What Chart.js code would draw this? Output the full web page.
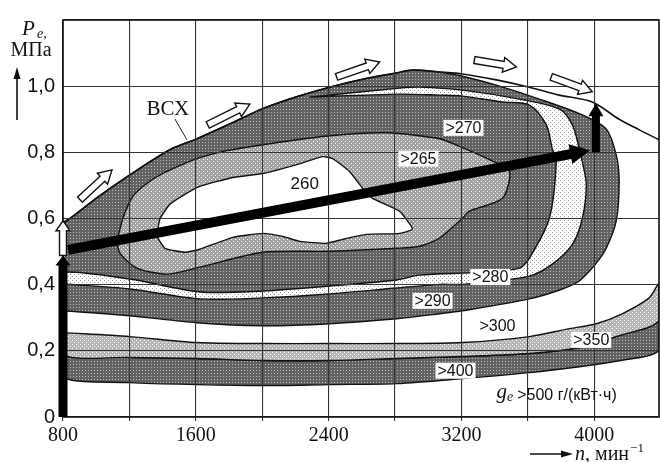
<!DOCTYPE html>
<html>
<head>
<meta charset="utf-8">
<script src="https://cdn.jsdelivr.net/npm/chart.js@4.4.1/dist/chart.umd.min.js"></script>
<style>
  html, body { margin: 0; padding: 0; background: #fff; }
  #wrap { width: 660px; height: 462px; }
</style>
</head>
<body>
<div id="wrap"><canvas id="map" width="660" height="462"></canvas></div>
<script>
// Axis ticks: engine speed n, min^-1 (grid every 400, labels every 800) and Pe, MPa
const rpmGrid = [800, 1200, 1600, 2000, 2400, 2800, 3200, 3600, 4000];
const rpmTicks = [800, 1600, 2400, 3200, 4000];
const peGrid = [0, 0.2, 0.4, 0.6, 0.8, 1.0, 1.2];
const peTicks = [0, 0.2, 0.4, 0.6, 0.8, 1.0];

// Full-load curve (ВСХ): [n, Pe]
const fullLoad = [[800,0.585],[842,0.600],[1022,0.669],[1203,0.732],[1444,0.808],[1606,0.841],
  [1805,0.886],[2003,0.932],[2207,0.968],[2406,0.997],[2605,1.021],[2809,1.040],[2905,1.049],
  [3068,1.043],[3206,1.037],[3410,1.019],[3609,0.997],[3789,0.973],[3988,0.952],[4150,0.900],
  [4271,0.868],[4390,0.838]];

// Iso-consumption contours ge, g/(kW·h)
const c500 = [[800,0.119],[1203,0.104],[1606,0.098],[2003,0.095],[2406,0.098],[2809,0.101],
  [3206,0.116],[3609,0.134],[3910,0.152],[4150,0.170],[4390,0.201]];
const c400 = [[800,0.186],[1203,0.180],[1606,0.177],[2003,0.171],[2406,0.171],[2809,0.177],
  [3206,0.183],[3609,0.192],[3910,0.210],[4150,0.246],[4390,0.291]];
const c350 = [[800,0.255],[1203,0.243],[1606,0.225],[2003,0.222],[2406,0.222],[2809,0.222],
  [3206,0.225],[3609,0.243],[3850,0.267],[4012,0.282],[4168,0.312],[4331,0.360],[4390,0.402]];
const c300 = [[800,0.321],[1203,0.306],[1606,0.285],[2003,0.276],[2406,0.282],[2809,0.297],
  [3068,0.312],[3206,0.321],[3609,0.357],[3808,0.387],[3910,0.411],[4012,0.465],[4072,0.510],
  [4132,0.592],[4150,0.712],[4132,0.793],[4072,0.871],[3928,0.913],[3669,0.961],[3410,1.003],
  [3206,1.030]];
const c290 = [[800,0.402],[1203,0.387],[1624,0.357],[2003,0.360],[2406,0.372],[2809,0.390],
  [3068,0.401],[3206,0.401],[3609,0.426],[3747,0.462],[3868,0.522],[3928,0.600],[3952,0.702],
  [3928,0.772],[3910,0.811],[3868,0.883],[3789,0.931],[3549,0.961],[3206,0.988],[2947,0.997],
  [2827,0.994],[2286,0.967]];
const c280 = [[800,0.438],[1203,0.417],[1624,0.378],[2003,0.381],[2406,0.396],[2809,0.414],
  [2947,0.429],[3308,0.437],[3549,0.450],[3609,0.480],[3729,0.600],[3771,0.772],[3747,0.811],
  [3711,0.883],[3609,0.943],[3447,0.952],[3206,0.970],[3068,0.973],[2827,0.976],[2286,0.967]];
const c270 = [[1125,0.531],[1161,0.601],[1221,0.667],[1305,0.706],[1401,0.736],[1504,0.760],
  [1624,0.784],[1786,0.805],[2003,0.823],[2406,0.850],[2749,0.859],[3068,0.841],[3206,0.814],
  [3368,0.778],[3489,0.742],[3447,0.661],[3248,0.622],[3206,0.601],[3068,0.541],[2947,0.516],
  [2809,0.510],[2406,0.501],[2003,0.498],[1624,0.453],[1426,0.432],[1245,0.450],[1143,0.495]];
const c265 = [[1365,0.546],[1383,0.598],[1444,0.643],[1534,0.673],[1624,0.697],[1823,0.724],
  [2003,0.736],[2208,0.763],[2364,0.787],[2424,0.781],[2526,0.742],[2605,0.691],[2665,0.661],
  [2827,0.622],[2905,0.568],[2827,0.555],[2629,0.552],[2484,0.537],[2388,0.525],[2226,0.531],
  [2123,0.546],[2003,0.555],[1823,0.543],[1624,0.507],[1534,0.498],[1414,0.510]];

// Operating path: idle rise, part-load line, rise to full load
const idleRise = [[800,0.0],[800,0.488]];
const idleRiseOpen = [[800,0.488],[800,0.593]];
const partLoadPath = [[830,0.505],[3975,0.806]];
const fullLoadRise = [[4010,0.800],[4010,0.948]];
// Direction arrows along the full-load curve: [tail, tip]
const flowArrows = [
  [[902,0.657],[1095,0.747]],
  [[1672,0.883],[1925,0.946]],
  [[2448,1.028],[2707,1.073]],
  [[3278,1.079],[3531,1.058]],
  [[3741,1.028],[3988,0.983]]
];

// Zone labels: [text, n, Pe]
const zoneLabels = [
  ['>270', 3212, 0.874], ['>265', 2941, 0.781], ['260', 2256, 0.706],
  ['>280', 3374, 0.423], ['>290', 3026, 0.351], ['>300', 3417, 0.276],
  ['>350', 3982, 0.233], ['>400', 3164, 0.140]
];
const curveName = ['ВСХ', 1432, 0.913];
const curveLeader = [[1474,0.901],[1546,0.838]];
const unitNote = [3411, 0.050];

// ---- fill textures ----
function tile(size, base, dot, cells) {
  const c = document.createElement('canvas');
  c.width = c.height = size;
  const g = c.getContext('2d');
  g.fillStyle = base; g.fillRect(0, 0, size, size);
  g.fillStyle = dot;
  cells.forEach(([i, j]) => g.fillRect(i, j, 1, 1));
  return g.createPattern(c, 'repeat');
}
const darkMesh = tile(3, '#626262', '#bcbcbc', [[1,1]]);
const greyDots = tile(4, '#a2a2a2', '#ffffff', [[1,1],[3,3]]);
const paleDots = tile(4, '#b6b6b6', '#ffffff', [[0,0],[2,2]]);
const whiteDots = tile(4, '#ffffff', '#9a9a9a', [[0,0],[2,2]]);

const pts = arr => arr.map(([x, y]) => ({x, y}));
const closed = arr => pts([...arr, arr[0]]);
const band = (upper, lower) => closed([...upper, ...lower.slice().reverse()]);

const zone290 = c300.concat(fullLoad.filter(p => p[0] < c300[c300.length - 1][0]).reverse());

function region(data, fill, order, tension) {
  return {
    data, showLine: true, fill: 'shape', backgroundColor: fill,
    borderColor: '#111', borderWidth: 1.4, pointRadius: 0,
    tension: tension, order
  };
}

const datasets = [
  region(band(c400, c500), darkMesh, 10, 0.3),
  region(band(c350, c400), paleDots, 9, 0.3),
  region(closed(zone290), darkMesh, 8, 0.3),
  region(band(c290, c280), whiteDots, 7, 0.3),
  region(closed(c270), greyDots, 6, 0.25),
  region(closed(c265), '#ffffff', 5, 0.15),
  { data: pts(fullLoad), showLine: true, fill: false, borderColor: '#111', borderWidth: 1.6,
    pointRadius: 0, tension: 0.3, order: 1 }
];

function arrowPath(ctx, x1, y1, x2, y2, w, hw, hl) {
  const dx = x2 - x1, dy = y2 - y1, len = Math.hypot(dx, dy);
  const ux = dx / len, uy = dy / len, nx = -uy, ny = ux;
  const bx = x2 - ux * hl, by = y2 - uy * hl;
  ctx.beginPath();
  ctx.moveTo(x1 + nx * w / 2, y1 + ny * w / 2);
  ctx.lineTo(bx + nx * w / 2, by + ny * w / 2);
  ctx.lineTo(bx + nx * hw / 2, by + ny * hw / 2);
  ctx.lineTo(x2, y2);
  ctx.lineTo(bx - nx * hw / 2, by - ny * hw / 2);
  ctx.lineTo(bx - nx * w / 2, by - ny * w / 2);
  ctx.lineTo(x1 - nx * w / 2, y1 - ny * w / 2);
  ctx.closePath();
}

const overlay = {
  id: 'overlay',
  afterDraw(chart) {
    const {ctx, chartArea: a} = chart;
    const sx = chart.scales.x, sy = chart.scales.y;
    const X = v => sx.getPixelForValue(v), Y = v => sy.getPixelForValue(v);
    ctx.save();

    // plot frame
    ctx.strokeStyle = '#111'; ctx.lineWidth = 1.6;
    ctx.strokeRect(a.left, a.top, a.right - a.left, a.bottom - a.top);

    const solid = (p, w, hw, hl) => {
      arrowPath(ctx, X(p[0][0]), Y(p[0][1]), X(p[1][0]), Y(p[1][1]), w, hw, hl);
      ctx.fillStyle = '#000'; ctx.fill();
    };
    const hollow = (p, w, hw, hl) => {
      arrowPath(ctx, X(p[0][0]), Y(p[0][1]), X(p[1][0]), Y(p[1][1]), w, hw, hl);
      ctx.fillStyle = '#fff'; ctx.fill();
      ctx.strokeStyle = '#111'; ctx.lineWidth = 1.4; ctx.lineJoin = 'miter'; ctx.stroke();
    };
    solid(partLoadPath, 10, 20, 20);
    solid(idleRise, 9, 15, 10);
    hollow(idleRiseOpen, 7, 14, 10);
    solid(fullLoadRise, 8, 15, 13);
    flowArrows.forEach(p => hollow(p, 7, 15, 13));

    // zone labels
    ctx.textAlign = 'center'; ctx.textBaseline = 'middle';
    zoneLabels.forEach(([t, n, pe]) => {
      ctx.font = (t === '260' ? '17px' : '16px') + ' "Liberation Sans", Arial, sans-serif';
      const w = ctx.measureText(t).width;
      const cx = X(n), cy = Y(pe);
      ctx.fillStyle = '#fff';
      ctx.fillRect(cx - w / 2 - 2, cy - 8, w + 4, 16);
      ctx.fillStyle = '#111';
      ctx.fillText(t, cx, cy + 1);
    });

    // full-load curve name with leader
    ctx.font = '21px "Liberation Serif", "Times New Roman", serif';
    ctx.textBaseline = 'alphabetic';
    ctx.fillText(curveName[0], X(curveName[1]), Y(curveName[2]));
    ctx.beginPath();
    ctx.moveTo(X(curveLeader[0][0]), Y(curveLeader[0][1]));
    ctx.lineTo(X(curveLeader[1][0]), Y(curveLeader[1][1]));
    ctx.strokeStyle = '#222'; ctx.lineWidth = 1; ctx.stroke();

    // specific consumption note
    ctx.textAlign = 'left';
    let ux = X(unitNote[0]); const uy = Y(unitNote[1]);
    ctx.font = 'italic 21px "Liberation Serif", serif';
    ctx.fillText('g', ux, uy - 2); ux += ctx.measureText('g').width;
    ctx.font = 'italic 14px "Liberation Serif", serif';
    ctx.fillText('e', ux, uy + 1); ux += ctx.measureText('e').width + 4;
    ctx.font = '16px "Liberation Sans", Arial, sans-serif';
    ctx.fillText('>500 г/(кВт·ч)', ux, uy);

    // vertical axis title
    ctx.font = 'italic 21px "Liberation Serif", serif';
    ctx.fillText('P', a.left - 41, a.top + 15);
    ctx.font = 'italic 14px "Liberation Serif", serif';
    ctx.fillText('e,', a.left - 26, a.top + 18);
    ctx.font = '20px "Liberation Serif", serif';
    ctx.textAlign = 'center';
    ctx.fillText('МПа', a.left - 32, a.top + 36);
    const ax = a.left - 46;
    ctx.beginPath(); ctx.moveTo(ax, a.top + 100); ctx.lineTo(ax, a.top + 56);
    ctx.strokeStyle = '#111'; ctx.lineWidth = 1.6; ctx.stroke();
    ctx.beginPath(); ctx.moveTo(ax, a.top + 47); ctx.lineTo(ax - 3.5, a.top + 59); ctx.lineTo(ax + 3.5, a.top + 59);
    ctx.closePath(); ctx.fillStyle = '#111'; ctx.fill();

    // horizontal axis title
    const by = a.bottom + 37;
    ctx.beginPath(); ctx.moveTo(a.right - 129, by); ctx.lineTo(a.right - 96, by); ctx.stroke();
    ctx.beginPath(); ctx.moveTo(a.right - 86, by); ctx.lineTo(a.right - 98, by - 3.5); ctx.lineTo(a.right - 98, by + 3.5);
    ctx.closePath(); ctx.fill();
    ctx.textAlign = 'left';
    let tx = a.right - 84; const ty = a.bottom + 43;
    ctx.font = 'italic 20px "Liberation Serif", serif';
    ctx.fillText('n', tx, ty); tx += ctx.measureText('n').width;
    ctx.font = '20px "Liberation Serif", serif';
    ctx.fillText(', мин', tx, ty); tx += ctx.measureText(', мин').width + 1;
    ctx.font = '13px "Liberation Serif", serif';
    ctx.fillText('−1', tx, ty - 8);

    ctx.restore();
  }
};

new Chart(document.getElementById('map'), {
  type: 'scatter',
  data: { datasets },
  options: {
    responsive: false,
    animation: false,
    events: [],
    devicePixelRatio: 1,
    layout: { padding: { top: 17, right: 1, left: 0, bottom: 0 } },
    plugins: { legend: { display: false }, tooltip: { enabled: false } },
    scales: {
      x: {
        type: 'linear', min: 800, max: 4390,
        afterBuildTicks(s) { s.ticks = rpmGrid.map(value => ({value})); },
        afterFit(s) { s.height = 45; s.paddingLeft = 0; s.paddingRight = 0; },
        grid: { color: '#333', lineWidth: 1.1, z: 1, drawTicks: true, tickLength: 4 },
        border: { display: false },
        ticks: {
          autoSkip: false, maxRotation: 0, padding: 3, color: '#111',
          font: { family: '"Liberation Serif", "Times New Roman", serif', size: 20 },
          callback: v => rpmTicks.includes(v) ? String(v) : ''
        }
      },
      y: {
        type: 'linear', min: 0, max: 1.2,
        afterBuildTicks(s) { s.ticks = peGrid.map(value => ({value})); },
        afterFit(s) { s.width = 63; },
        grid: { color: '#333', lineWidth: 1.1, z: 1, drawTicks: false },
        border: { display: false },
        ticks: {
          padding: 8, color: '#111',
          font: { family: '"Liberation Sans", Arial, sans-serif', size: 20 },
          callback: v => {
            const t = peTicks.find(p => Math.abs(p - v) < 1e-6);
            if (t === undefined) return '';
            return t === 0 ? '0' : t.toFixed(1).replace('.', ',');
          }
        }
      }
    }
  },
  plugins: [overlay]
});
</script>
</body>
</html>
